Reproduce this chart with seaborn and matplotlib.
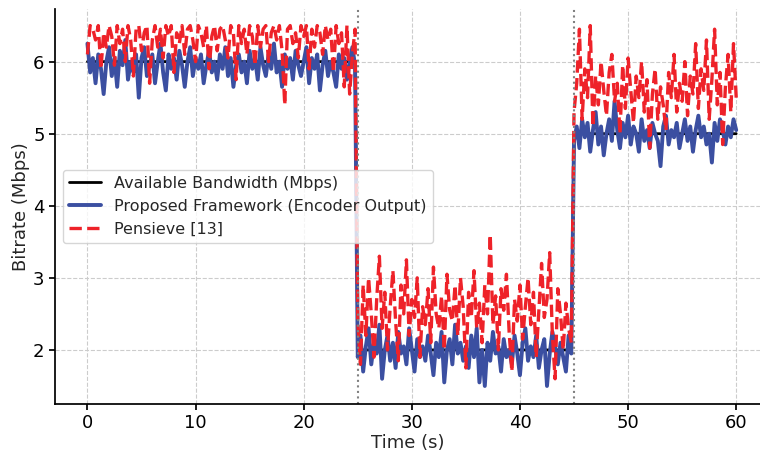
import numpy as np
import pandas as pd
import matplotlib
matplotlib.use("Agg")
import matplotlib.pyplot as plt
import seaborn as sns

# available bandwidth levels per segment (Mbps) and segment boundaries (s)
bw_levels = [6, 2, 5]
seg_edges = [0, 25, 45, 60]

# proposed framework (encoder output), 0.25 s step
blue1 = [6.25, 5.85, 6.05, 5.7, 6.1, 5.9, 5.55, 6.0, 6.2, 5.8, 6.05, 5.65, 6.15, 5.95, 6.3, 5.75, 6.0, 5.85, 6.1, 5.5,
         6.05, 6.2, 5.8, 5.95, 6.1, 5.7, 6.0, 6.25, 5.85, 5.6, 6.1, 5.9, 6.05, 5.75, 6.15, 5.95, 5.65, 6.0, 6.2, 5.8,
         6.05, 5.9, 6.1, 5.7, 5.95, 6.15, 5.85, 6.0, 5.75, 6.1, 5.9, 6.2, 5.8, 6.05, 5.65, 5.95, 6.1, 5.85, 6.0, 5.7,
         6.15, 5.9, 6.05, 5.75, 6.2, 5.95, 5.8, 6.1, 5.9, 6.25, 5.85, 6.0, 5.65, 6.1, 5.9, 6.05, 5.75, 6.15, 5.95, 5.8,
         6.0, 6.2, 5.7, 6.05, 5.9, 6.1, 5.6, 5.95, 6.15, 5.8, 6.0, 5.85, 5.65, 6.1, 5.9, 6.05, 5.75, 6.0, 6.2, 5.95]
blue2 = [1.9, 2.2, 1.7, 2.05, 2.3, 1.8, 2.1, 1.95, 2.35, 1.6, 2.0, 2.2, 1.85, 2.1, 1.75, 2.25, 1.95, 2.05, 1.8, 2.3,
         2.0, 1.7, 2.15, 1.9, 2.05, 1.85, 2.2, 1.95, 1.65, 2.1, 1.9, 2.25, 1.55, 2.0, 2.15, 1.8, 2.35, 1.95, 2.1, 1.85,
         2.05, 1.75, 2.2, 1.9, 2.3, 1.55, 2.0, 1.5, 2.1, 1.85, 2.25, 1.95, 2.05, 1.7, 2.15, 1.9, 2.0, 1.8, 2.2, 1.95,
         1.65, 2.1, 2.3, 1.85, 2.05, 1.9, 2.2, 1.75, 2.0, 2.15, 1.5, 1.95, 2.25, 2.05, 1.8, 2.1, 1.9, 1.7, 2.2, 1.95]
blue3 = [4.9, 5.1, 4.8, 5.2, 4.95, 5.15, 4.75, 5.05, 5.3, 4.85, 5.1, 4.7, 5.0, 5.2, 4.9, 5.45, 5.05, 4.8, 5.15, 4.95,
         5.25, 4.85, 5.1, 5.0, 4.75, 5.2, 4.9, 5.05, 4.8, 5.15, 5.0, 4.9, 4.55, 5.1, 5.25, 4.85, 5.05, 4.95, 5.15, 4.8,
         5.0, 5.2, 4.9, 5.1, 4.75, 5.05, 5.25, 4.95, 5.1, 4.85, 5.0, 4.6, 5.15, 4.9, 5.2, 5.05, 4.85, 5.1, 4.95, 5.2, 5.05]

# Pensieve [13]
red1 = [6.1, 6.5, 6.45, 6.3, 6.5, 5.9, 6.4, 6.2, 6.5, 6.35, 5.95, 6.5, 6.25, 6.45, 6.0, 6.5, 6.3, 5.8, 6.45, 6.5,
        6.15, 6.4, 6.5, 5.7, 6.3, 6.5, 6.2, 6.45, 6.05, 6.5, 6.35, 6.5, 5.85, 6.4, 6.25, 6.5, 6.1, 6.45, 6.5, 6.3,
        6.0, 6.5, 6.4, 6.2, 6.5, 5.9, 6.35, 6.5, 6.15, 6.45, 6.5, 6.3, 6.05, 6.5, 6.4, 5.75, 6.5, 6.25, 6.45, 6.1,
        6.5, 6.35, 5.95, 6.5, 6.2, 6.45, 6.5, 6.0, 6.4, 6.5, 6.3, 6.5, 6.15, 5.4, 6.45, 6.5, 6.25, 6.4, 6.05, 6.5,
        6.35, 6.5, 5.9, 6.45, 6.2, 6.5, 6.4, 6.1, 6.5, 6.3, 6.45, 5.85, 6.5, 6.25, 6.4, 5.65, 6.5, 5.55, 6.1, 6.45]
red2 = [2.4, 1.8, 2.9, 2.2, 3.0, 2.5, 1.9, 2.7, 3.3, 2.3, 2.8, 2.0, 2.6, 3.1, 2.4, 1.85, 2.9, 2.5, 3.25, 2.2,
        2.7, 2.45, 3.0, 1.9, 2.6, 2.35, 2.85, 2.1, 3.15, 2.5, 2.3, 2.75, 2.0, 3.05, 2.55, 2.4, 2.9, 2.2, 3.0, 2.6,
        1.75, 2.8, 2.45, 3.1, 2.3, 2.65, 2.1, 2.9, 2.5, 3.6, 2.35, 2.75, 2.0, 2.85, 2.55, 3.05, 2.25, 1.7, 2.7, 2.4,
        2.9, 2.15, 2.6, 3.0, 2.35, 2.8, 1.9, 2.55, 3.2, 2.45, 2.7, 3.35, 2.2, 1.6, 2.85, 2.5, 2.0, 2.65, 2.3, 2.1]
red3 = [5.3, 5.7, 6.45, 5.2, 5.9, 5.5, 6.5, 5.1, 5.8, 5.4, 6.0, 5.6, 5.25, 5.85, 6.1, 5.45, 5.7, 5.0, 5.95, 5.35,
        6.05, 5.6, 5.15, 5.8, 5.5, 6.0, 5.3, 5.75, 4.8, 5.55, 5.9, 5.2, 5.65, 5.4, 5.05, 5.85, 5.5, 6.1, 5.3, 5.7,
        5.45, 6.0, 5.25, 5.8, 5.55, 6.25, 5.35, 5.9, 5.6, 6.3, 5.2, 5.75, 6.45, 5.4, 5.85, 4.85, 5.65, 6.1, 5.3, 6.25, 5.5]


def seg_times(segs):
    out = []
    for k, s in enumerate(segs):
        last = k == len(segs) - 1
        out.append(np.linspace(seg_edges[k], seg_edges[k + 1], len(s), endpoint=last))
    return np.concatenate(out)


t_blue = seg_times([blue1, blue2, blue3])
t_red = seg_times([red1, red2, red3])
blue = np.concatenate([blue1, blue2, blue3])
red = np.concatenate([red1, red2, red3])
bw = np.concatenate([np.full(len(s), lv) for s, lv in zip([blue1, blue2, blue3], bw_levels)])

sns.set_theme(style="ticks")
plt.rcParams['font.family'] = ['DejaVu Sans']

fig = plt.figure(figsize=(7.6, 4.53), dpi=100)
ax = fig.add_axes([55 / 760, 1 - 404 / 453, 1 - 55 / 760, (404 - 9) / 453])

sns.lineplot(x=t_blue, y=bw, ax=ax, color="black", lw=2, label="Available Bandwidth (Mbps)")
sns.lineplot(x=t_blue, y=blue, ax=ax, color="#3b4fa1", lw=2.8, label="Proposed Framework (Encoder Output)")
sns.lineplot(x=t_red, y=red, ax=ax, color="#ee2229", lw=2.4, ls="--", label="Pensieve [13]")

for xv in seg_edges[1:3]:
    ax.axvline(xv, color="gray", ls=":", lw=1.5)

ax.set_xlim(-3, 62.2)
ax.set_ylim(1.25, 6.73)
ax.set_xticks([0, 10, 20, 30, 40, 50, 60])
ax.set_yticks([2, 3, 4, 5, 6])
ax.grid(True, ls="--", color="#cccccc", lw=0.8)
ax.tick_params(labelsize=13, colors="black", length=4)
ax.set_xlabel("Time (s)", fontsize=13, labelpad=1)
ax.set_ylabel("Bitrate (Mbps)", fontsize=13, labelpad=2)
sns.despine(ax=ax)
for sp in ax.spines.values():
    sp.set_color("black")

ax.legend(loc="center left", fontsize=11.5, frameon=True, framealpha=0.8, edgecolor="#cccccc")

fig.savefig("out.png", dpi=100)
